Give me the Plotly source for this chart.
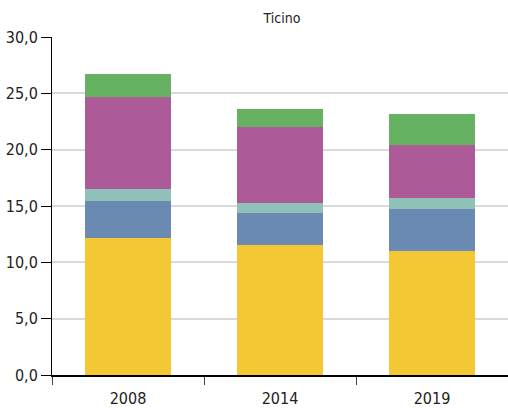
import plotly.graph_objects as go

years = ["2008", "2014", "2019"]

# stacked components, bottom to top
serie_1 = [12.2, 11.55, 11.05]
serie_2 = [3.25, 2.8, 3.7]
serie_3 = [1.05, 0.9, 1.0]
serie_4 = [8.2, 6.8, 4.7]
serie_5 = [2.0, 1.6, 2.7]

series = [serie_1, serie_2, serie_3, serie_4, serie_5]
names = ["Serie 1", "Serie 2", "Serie 3", "Serie 4", "Serie 5"]
colors = ["#F4C834", "#6A8AB3", "#8FC1B9", "#AD5A98", "#67B262"]

font_family = "DejaVu Sans Condensed, Liberation Sans Narrow, sans-serif"

fig = go.Figure()
for name, vals, col in zip(names, series, colors):
    fig.add_trace(go.Bar(x=years, y=vals, name=name, marker_color=col,
                         marker_line_width=0))

fig.update_layout(
    barmode="stack",
    bargap=0.44,
    width=508,
    height=410,
    margin=dict(l=52, r=0, t=37, b=35),
    paper_bgcolor="white",
    plot_bgcolor="white",
    showlegend=False,
    separators=",.",
    font=dict(family=font_family, size=16, color="#222"),
    title=dict(text="Ticino", x=0.555, xanchor="center", y=0.955, yanchor="middle",
               font=dict(family=font_family, size=14, color="#222")),
)

fig.update_yaxes(
    range=[0, 30],
    dtick=5,
    tickformat=".1f",
    automargin=False,
    showgrid=True,
    gridcolor="#d9d9d9",
    gridwidth=1.5,
    showline=True,
    linecolor="black",
    linewidth=1,
    ticks="outside",
    ticklen=10,
    tickcolor="black",
    zeroline=False,
)

fig.update_xaxes(
    type="category",
    automargin=False,
    showline=True,
    linecolor="black",
    linewidth=1.5,
    ticks="outside",
    tickson="boundaries",
    ticklen=8,
    tickcolor="#444",
    ticklabelstandoff=8,
    showgrid=False,
)

# page body has a default 8px margin; drop it so the chart sits at the corner
fig.write_html("out.html", config={"displayModeBar": False},
               post_script="document.body.style.margin='0';")
